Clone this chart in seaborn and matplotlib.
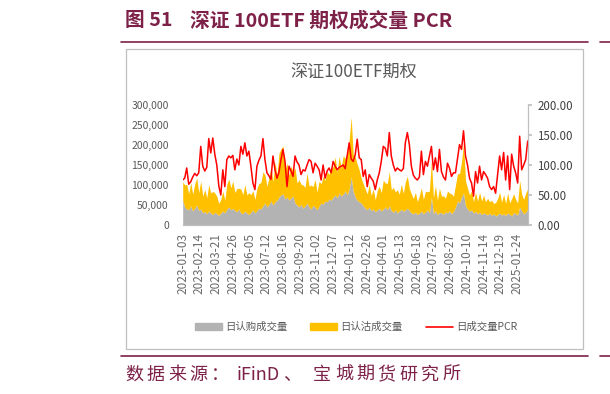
import numpy as np
import pandas as pd
import matplotlib
matplotlib.use("Agg")
import matplotlib.pyplot as plt
from matplotlib.patches import Rectangle, Patch
from matplotlib.lines import Line2D
from matplotlib.ticker import FuncFormatter
import seaborn as sns

# every 3rd trading day, 2023-01-03 .. 2025-02 (volumes in thousands)
call_k = [62, 45, 40, 38, 48, 35, 42, 50, 36, 40,
          30, 34, 28, 35, 30, 26, 32, 28, 24, 30,
          35, 30, 40, 45, 38, 42, 36, 33, 40, 30,
          28, 35, 30, 26, 32, 38, 30, 36, 42, 40,
          48, 55, 45, 52, 60, 50, 58, 62, 70, 75,
          78, 65, 70, 62, 68, 72, 55, 50, 45, 52,
          42, 48, 55, 45, 40, 50, 44, 38, 48, 55,
          52, 60, 58, 65, 62, 70, 75, 68, 80, 72,
          78, 85, 75, 90, 120, 85, 70, 62, 58, 55,
          48, 42, 38, 45, 36, 40, 33, 38, 42, 35,
          40, 45, 38, 48, 36, 32, 38, 30, 35, 40,
          34, 38, 42, 36, 30, 28, 32, 26, 30, 35,
          28, 32, 38, 30, 70, 28, 36, 26, 32, 30,
          27, 33, 30, 36, 28, 34, 45, 60, 55, 70,
          80, 48, 40, 35, 38, 30, 34, 28, 32, 26,
          30, 28, 25, 30, 24, 28, 22, 26, 30, 25,
          28, 24, 30, 27, 22, 32, 28, 25, 45, 35,
          28, 32, 40]
put_k = [46, 55, 62, 40, 58, 42, 60, 68, 45, 70,
         42, 55, 40, 66, 50, 58, 48, 44, 30, 34,
         50, 32, 62, 70, 55, 68, 45, 58, 52, 60,
         48, 66, 45, 55, 44, 48, 34, 56, 62, 66,
         85, 70, 52, 66, 85, 58, 100, 62, 110, 115,
         120, 72, 85, 62, 80, 60, 88, 55, 68, 50,
         58, 46, 75, 52, 60, 46, 70, 44, 62, 48,
         70, 52, 75, 62, 80, 76, 95, 64, 92, 72,
         95, 82, 100, 122, 150, 92, 100, 90, 80, 62,
         55, 48, 40, 56, 38, 50, 30, 48, 55, 46,
         72, 60, 66, 85, 52, 62, 45, 58, 42, 62,
         45, 70, 80, 55, 48, 38, 50, 32, 44, 58,
         36, 52, 45, 55, 92, 40, 62, 36, 60, 42,
         46, 34, 55, 44, 50, 38, 55, 68, 74, 88,
         125, 62, 52, 40, 48, 28, 48, 32, 50, 34,
         45, 30, 42, 28, 38, 26, 34, 40, 52, 32,
         48, 30, 50, 28, 44, 46, 36, 30, 67, 42,
         36, 48, 50]
pcr = [75, 78, 95, 68, 72, 80, 86, 82, 87, 131,
       98, 90, 96, 144, 120, 145, 118, 100, 65, 50,
       92, 64, 109, 115, 112, 116, 92, 110, 100, 131,
       118, 137, 115, 123, 98, 70, 59, 98, 108, 115,
       144, 109, 87, 82, 76, 115, 92, 78, 88, 109,
       126, 106, 64, 98, 90, 81, 115, 105, 100, 84,
       92, 90, 100, 109, 106, 87, 103, 98, 92, 75,
       100, 78, 90, 95, 87, 106, 98, 92, 96, 98,
       100, 94, 115, 137, 110, 106, 117, 143, 112, 109,
       81, 92, 64, 84, 78, 73, 59, 75, 87, 106,
       131, 128, 115, 154, 115, 100, 90, 95, 92, 90,
       94, 137, 154, 134, 98, 83, 78, 75, 80, 123,
       84, 106, 98, 115, 131, 92, 112, 89, 126, 89,
       80, 75, 103, 95, 81, 87, 87, 110, 134, 126,
       157, 115, 100, 78, 70, 48, 89, 70, 98, 75,
       89, 84, 78, 64, 59, 64, 53, 84, 115, 92,
       121, 75, 115, 59, 118, 98, 87, 70, 148, 92,
       100, 109, 140]

tick_labels = ["2023-01-03", "2023-02-14", "2023-03-21", "2023-04-26", "2023-06-05",
               "2023-07-12", "2023-08-16", "2023-09-20", "2023-11-02", "2023-12-07",
               "2024-01-12", "2024-02-26", "2024-04-01", "2024-05-13", "2024-06-18",
               "2024-07-23", "2024-08-27", "2024-10-10", "2024-11-14", "2024-12-19",
               "2025-01-24"]

df = pd.DataFrame({
    "day": np.arange(len(pcr)) * 3,
    "call": np.array(call_k) * 1000,
    "put": np.array(put_k) * 1000,
    "pcr": pcr,
})

sns.set_theme(style="white")
plt.rcParams["font.family"] = ["Noto Sans CJK SC", "DejaVu Sans"]

maroon = "#7d2149"
txt = "#595959"

fig = plt.figure(figsize=(6.10, 3.94), dpi=100)
W, H = 610, 394

def fx(x):
    return x / W

def fy(y):
    return 1 - y / H

# header
fig.text(fx(125), fy(21), "图 51", color=maroon, fontsize=14.2,
         fontweight="bold", va="center", ha="left")
fig.text(fx(190), fy(21), "深证 100ETF 期权成交量 PCR", color=maroon, fontsize=14.2,
         fontweight="bold", va="center", ha="left")
fig.add_artist(Line2D([fx(121), fx(588)], [fy(42), fy(42)], color=maroon, lw=1.2))
fig.add_artist(Line2D([fx(600), fx(610)], [fy(42), fy(42)], color=maroon, lw=1.2))
fig.add_artist(Rectangle((fx(126), fy(349)), fx(583) - fx(126), fy(49) - fy(349),
                         fill=False, edgecolor="#bfbfbf", lw=0.9))
fig.add_artist(Line2D([fx(121), fx(588)], [fy(356), fy(356)], color=maroon, lw=1.2))
fig.add_artist(Line2D([fx(600), fx(610)], [fy(356), fy(356)], color=maroon, lw=1.2))

# footer, CJK laid out in wide fixed cells like the original font
xpos = 123.5
for part, gap in [("数", 0), ("据", 0), ("来", 0), ("源", 0), ("：", 5),
                  ("iFinD", 0), ("、", 9), ("宝", 0), ("城", 0), ("期", 0),
                  ("货", 0), ("研", 0), ("究", 0), ("所", 0)]:
    if part.isascii():
        fig.text(fx(xpos + 1), fy(375), part, color=maroon, fontsize=13,
                 fontweight="light", va="center", ha="left")
        xpos += 45 + gap
        continue
    fig.text(fx(xpos + 10.75), fy(375), part, color=maroon, fontsize=13,
             fontweight="light", va="center", ha="center")
    xpos += 21.5 + gap

fig.text(fx(354), fy(72), "深证100ETF期权", color=txt, fontsize=12.3,
         va="center", ha="center")

ax = fig.add_axes([fx(182.7), fy(225), fx(527.7) - fx(182.7), fy(105) - fy(225)])
ax.fill_between(df["day"], 0, df["call"], color="#b3b3b3", lw=0)
ax.fill_between(df["day"], df["call"], df["call"] + df["put"], color="#ffc000", lw=0)
ax.set_ylim(0, 300000)
ax.set_xlim(0, df["day"].iloc[-1])
ax.set_yticks(np.arange(0, 300001, 50000))
ax.yaxis.set_major_formatter(FuncFormatter(lambda v, p: f"{int(v):,}"))
ax.set_xticks(np.arange(len(tick_labels)) * 25)
ax.set_xticklabels(tick_labels, rotation=90)
ax.tick_params(axis="x", labelsize=8.5, labelcolor="#6a6a6a", length=0, pad=6)
ax.tick_params(axis="y", labelsize=7.5, labelcolor=txt, length=0, pad=10)
for s in ["top", "right", "left"]:
    ax.spines[s].set_visible(False)
ax.spines["bottom"].set_color("#bfbfbf")
ax.spines["bottom"].set_linewidth(0.9)
ax.set_xlabel("")
ax.set_ylabel("")

ax2 = ax.twinx()
sns.lineplot(data=df, x="day", y="pcr", ax=ax2, color="#ff0000", lw=1.1)
ax2.set_ylim(0, 200)
ax2.set_yticks(np.arange(0, 201, 50))
ax2.yaxis.set_major_formatter(FuncFormatter(lambda v, p: f"{v:.2f}"))
ax2.tick_params(axis="y", labelsize=8.3, labelcolor="#404040", length=3,
                color="#bfbfbf", direction="out", pad=4)
for s in ["top", "left", "bottom"]:
    ax2.spines[s].set_visible(False)
ax2.spines["right"].set_color("#bfbfbf")
ax2.spines["right"].set_linewidth(0.9)
ax2.set_xlabel("")
ax2.set_ylabel("")

handles = [Patch(color="#b3b3b3"), Patch(color="#ffc000"),
           Line2D([0], [0], color="#ff0000", lw=1.2)]
labels = ["日认购成交量", "日认沽成交量", "日成交量PCR"]
leg = fig.legend(handles, labels, loc="center", bbox_to_anchor=(fx(356), fy(327)),
                 ncol=3, frameon=False, fontsize=7.5, handlelength=2.6,
                 handleheight=0.6, columnspacing=2.2, handletextpad=0.3)
for t in leg.get_texts():
    t.set_color(txt)

fig.savefig("out.png", dpi=100)
